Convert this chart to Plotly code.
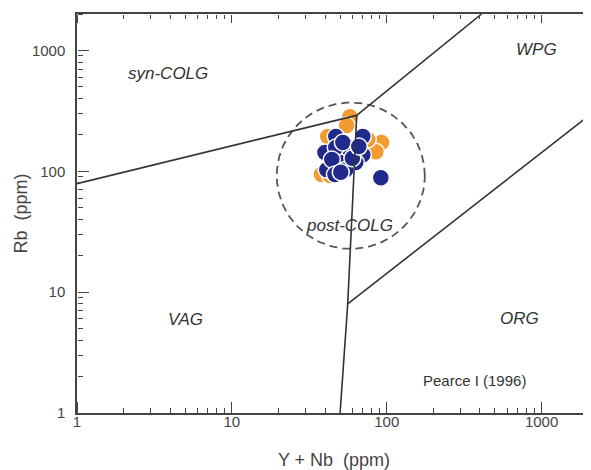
import numpy as np
import plotly.graph_objects as go

# ---- data (Y+Nb, Rb in ppm) ----
orange_ynb = [57.8, 55.2, 41.6, 92.6, 85.1, 37.9, 75.5, 43.0]
orange_rb = [283, 239, 194, 173, 145, 94, 183, 92]

navy_ynb = [46.9, 70.1, 57.8, 39.9, 55.2, 70.1, 49.8, 63.1, 41.0, 54.4, 91.6,
            46.9, 52.1, 44.2, 46.3, 60.0, 66.0, 50.5]
navy_rb = [194, 194, 157, 143, 137, 137, 118, 118, 103, 103, 88.5,
           157, 173, 125, 94, 128, 160, 98]

# field boundaries (Pearce 1996)
b_vag_syn_x = [1, 64]
b_vag_syn_y = [79, 290]
b_syn_wpg_x = [64, 410]
b_syn_wpg_y = [290, 2000]
b_vert_x = [64, 56, 50]
b_vert_y = [290, 8, 1]
b_wpg_org_x = [56, 2200]
b_wpg_org_y = [8, 314]

# post-COLG circle: centre (Y+Nb, Rb) and radii in decades
post_center = (58.6, 91.9)
post_radius_dec = (0.478, 0.605)

# field labels
labels = ["syn-COLG", "WPG", "post-COLG", "VAG", "ORG"]
label_x = [3.86, 932, 57.8, 5.05, 723]
label_y = [644, 1017, 35.4, 5.9, 6.1]

X_RANGE = [0, np.log10(2085)]
Y_RANGE = [0, np.log10(2000)]

NAVY = "#1f2a8a"
ORANGE = "#f39a30"
LINE = "#333333"
AX = "#444444"
FONT = "Liberation Sans, Arial"

fig = go.Figure()

fig.add_trace(go.Scatter(x=orange_ynb, y=orange_rb, mode="markers",
                         marker=dict(size=17, color=ORANGE,
                                     line=dict(color="white", width=1.5))))
fig.add_trace(go.Scatter(x=navy_ynb, y=navy_rb, mode="markers",
                         marker=dict(size=17, color=NAVY,
                                     line=dict(color="white", width=1.5))))

th = np.linspace(0, 2 * np.pi, 240)
cx, cy = np.log10(post_center[0]), np.log10(post_center[1])
ex = 10 ** (cx + post_radius_dec[0] * np.cos(th))
ey = 10 ** (cy + post_radius_dec[1] * np.sin(th))
fig.add_trace(go.Scatter(x=ex, y=ey, mode="lines",
                         line=dict(color="#555555", width=1.8, dash="8px,5px")))

for bx, by in [(b_vag_syn_x, b_vag_syn_y), (b_syn_wpg_x, b_syn_wpg_y),
               (b_vert_x, b_vert_y), (b_wpg_org_x, b_wpg_org_y)]:
    fig.add_trace(go.Scatter(x=bx, y=by, mode="lines",
                             line=dict(color=LINE, width=1.6)))

# invisible helper traces so the tick-only overlay axes get drawn
for xa, ya in [("x2", "y2"), ("x3", "y3")]:
    fig.add_trace(go.Scatter(x=navy_ynb[:1], y=navy_rb[:1], xaxis=xa, yaxis=ya,
                             mode="markers", marker=dict(opacity=0),
                             hoverinfo="skip"))

for t, x, y in zip(labels, label_x, label_y):
    fig.add_annotation(x=np.log10(x), y=np.log10(y), text=t, showarrow=False,
                       font=dict(family=FONT, size=17, color="#333333", style="italic"))
fig.add_annotation(x=np.log10(371), y=np.log10(1.84), text="Pearce I (1996)",
                   showarrow=False, font=dict(family=FONT, size=15, color="#333333"))

base = dict(type="log", showgrid=False, zeroline=False, dtick=1, automargin=False,
            tickcolor=AX, tickwidth=1)


def tick_axis(side, position, major, minor_len, overlay):
    # tick-only axis placed on the opposite edge so its outside ticks point inward
    return dict(**base, overlaying=overlay, side=side, anchor="free",
                position=position, ticks="outside", ticklen=major,
                showticklabels=False, showline=False,
                minor=dict(dtick="D1", ticks="outside", ticklen=minor_len,
                           tickcolor=AX, tickwidth=1, showgrid=False))


fig.update_layout(
    xaxis=dict(**base, range=X_RANGE, showline=True, linecolor=AX, linewidth=1.5,
               mirror=True, ticks="", ticklabelstandoff=-6,
               tickfont=dict(family=FONT, size=15, color=AX),
               title=dict(text="Y + Nb  (ppm)", standoff=28,
                          font=dict(family=FONT, size=18, color=AX))),
    yaxis=dict(**base, range=Y_RANGE, showline=True, linecolor=AX, linewidth=1.5,
               mirror=True, ticks="", ticklabelstandoff=7,
               tickfont=dict(family=FONT, size=15, color=AX),
               title=dict(text="Rb  (ppm)", standoff=0,
                          font=dict(family=FONT, size=18, color=AX))),
    xaxis2=dict(**tick_axis("top", 0, 11, 5, "x"), range=X_RANGE),
    xaxis3=dict(**tick_axis("bottom", 1, 8, 4, "x"), range=X_RANGE),
    yaxis2=dict(**tick_axis("right", 0, 11, 5, "y"), range=Y_RANGE),
    yaxis3=dict(**tick_axis("left", 1, 8, 4, "y"), range=Y_RANGE),
)

# page body has an 8px margin: shrink the figure so it ends at the window edge
fig.update_layout(width=583, height=462, showlegend=False,
                  margin=dict(l=69, r=0, t=6, b=57),
                  paper_bgcolor="white", plot_bgcolor="white")

fig.write_html("out.html")
